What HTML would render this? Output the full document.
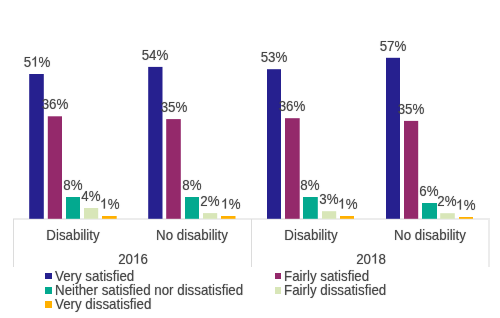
<!DOCTYPE html>
<html><head><meta charset="utf-8"><style>
html,body{margin:0;padding:0;background:#fff;width:500px;height:318px;overflow:hidden}
body{position:relative;font-family:"Liberation Sans",sans-serif}
.t,.tl{position:absolute;font-size:13.33px;line-height:13.33px;color:#464646;white-space:nowrap;will-change:transform;z-index:2;transform:scaleY(1.04);transform-origin:50% 11.28px;text-shadow:0 0 1px rgba(70,70,70,0.5)}
.t{text-align:center}
.one{display:inline-block;width:7.414px;height:9.581px;vertical-align:baseline;fill:#464646;stroke:#464646;stroke-width:40;overflow:visible}
.b{position:absolute;z-index:1}
.ln{position:absolute;background:#dcdcdc}
.ln2{position:absolute;background:#ececec}
.sq{position:absolute;width:6.5px;height:6.5px}
</style></head><body>
<div class="t" style="left:-23.50px;top:55.72px;width:120px">5<svg class="one" viewBox="0 0 1139 1472"><path d="M763,1472L583,1472L583,325Q518,387 412,449Q306,511 221,542L221,368Q372,297 485,196Q598,95 645,0L763,0Z"/></svg>%</div>
<div class="t" style="left:-5.10px;top:98.02px;width:120px">36%</div>
<div class="t" style="left:13.00px;top:178.72px;width:120px">8%</div>
<div class="t" style="left:31.10px;top:189.72px;width:120px">4%</div>
<div class="t" style="left:50.05px;top:197.72px;width:120px"><svg class="one" viewBox="0 0 1139 1472"><path d="M763,1472L583,1472L583,325Q518,387 412,449Q306,511 221,542L221,368Q372,297 485,196Q598,95 645,0L763,0Z"/></svg>%</div>
<div class="t" style="left:95.35px;top:48.62px;width:120px">54%</div>
<div class="t" style="left:113.50px;top:100.82px;width:120px">35%</div>
<div class="t" style="left:132.00px;top:178.72px;width:120px">8%</div>
<div class="t" style="left:150.10px;top:194.82px;width:120px">2%</div>
<div class="t" style="left:170.75px;top:197.72px;width:120px"><svg class="one" viewBox="0 0 1139 1472"><path d="M763,1472L583,1472L583,325Q518,387 412,449Q306,511 221,542L221,368Q372,297 485,196Q598,95 645,0L763,0Z"/></svg>%</div>
<div class="t" style="left:214.00px;top:50.92px;width:120px">53%</div>
<div class="t" style="left:232.35px;top:99.92px;width:120px">36%</div>
<div class="t" style="left:250.40px;top:178.72px;width:120px">8%</div>
<div class="t" style="left:269.10px;top:192.92px;width:120px">3%</div>
<div class="t" style="left:288.00px;top:197.72px;width:120px"><svg class="one" viewBox="0 0 1139 1472"><path d="M763,1472L583,1472L583,325Q518,387 412,449Q306,511 221,542L221,368Q372,297 485,196Q598,95 645,0L763,0Z"/></svg>%</div>
<div class="t" style="left:333.00px;top:39.52px;width:120px">57%</div>
<div class="t" style="left:351.10px;top:102.62px;width:120px">35%</div>
<div class="t" style="left:368.50px;top:184.72px;width:120px">6%</div>
<div class="t" style="left:387.00px;top:194.92px;width:120px">2%</div>
<div class="t" style="left:406.00px;top:198.72px;width:120px"><svg class="one" viewBox="0 0 1139 1472"><path d="M763,1472L583,1472L583,325Q518,387 412,449Q306,511 221,542L221,368Q372,297 485,196Q598,95 645,0L763,0Z"/></svg>%</div>
<svg class="b" width="500" height="318" style="left:0;top:0"><rect x="29.20" y="74.00" width="14.60" height="144.80" fill="#26208F"/><rect x="47.80" y="116.30" width="14.20" height="102.50" fill="#94296B"/><rect x="66.00" y="197.00" width="14.00" height="21.80" fill="#03A98F"/><rect x="84.00" y="208.00" width="14.20" height="10.80" fill="#D8E6B8"/><rect x="102.00" y="216.00" width="14.70" height="2.80" fill="#FFB000"/><rect x="148.20" y="66.90" width="14.30" height="151.90" fill="#26208F"/><rect x="166.20" y="119.10" width="14.60" height="99.70" fill="#94296B"/><rect x="185.00" y="197.00" width="14.00" height="21.80" fill="#03A98F"/><rect x="203.00" y="213.10" width="14.20" height="5.70" fill="#D8E6B8"/><rect x="221.00" y="216.00" width="14.50" height="2.80" fill="#FFB000"/><rect x="267.00" y="69.20" width="14.00" height="149.60" fill="#26208F"/><rect x="285.00" y="118.20" width="14.70" height="100.60" fill="#94296B"/><rect x="303.00" y="197.00" width="14.80" height="21.80" fill="#03A98F"/><rect x="322.00" y="211.20" width="14.20" height="7.60" fill="#D8E6B8"/><rect x="340.00" y="216.00" width="14.00" height="2.80" fill="#FFB000"/><rect x="386.00" y="57.80" width="14.00" height="161.00" fill="#26208F"/><rect x="404.00" y="120.90" width="14.20" height="97.90" fill="#94296B"/><rect x="422.00" y="203.00" width="15.00" height="15.80" fill="#03A98F"/><rect x="440.20" y="213.20" width="14.60" height="5.60" fill="#D8E6B8"/><rect x="459.00" y="217.00" width="14.00" height="1.80" fill="#FFB000"/></svg>
<div class="ln2" style="left:13px;top:218px;width:477px;height:2px"></div>
<div class="ln" style="left:13px;top:219px;width:1px;height:48px"></div>
<div class="ln" style="left:251px;top:219px;width:1px;height:48px"></div>
<div class="ln2" style="left:488px;top:219px;width:2px;height:48px"></div>
<div class="t" style="left:13.20px;top:229.02px;width:120px">Disability</div>
<div class="t" style="left:132.20px;top:229.02px;width:120px">No disability</div>
<div class="t" style="left:251.20px;top:229.02px;width:120px">Disability</div>
<div class="t" style="left:369.60px;top:229.02px;width:120px">No disability</div>
<div class="t" style="left:72.70px;top:252.62px;width:120px">20<svg class="one" viewBox="0 0 1139 1472"><path d="M763,1472L583,1472L583,325Q518,387 412,449Q306,511 221,542L221,368Q372,297 485,196Q598,95 645,0L763,0Z"/></svg>6</div>
<div class="t" style="left:310.70px;top:252.62px;width:120px">20<svg class="one" viewBox="0 0 1139 1472"><path d="M763,1472L583,1472L583,325Q518,387 412,449Q306,511 221,542L221,368Q372,297 485,196Q598,95 645,0L763,0Z"/></svg>8</div>
<div class="sq" style="left:45.2px;top:272.6px;background:#26208F"></div>
<div class="tl" style="left:54.6px;top:269.52px">Very satisfied</div>
<div class="sq" style="left:274.8px;top:272.6px;background:#94296B"></div>
<div class="tl" style="left:284.2px;top:269.52px">Fairly satisfied</div>
<div class="sq" style="left:45.2px;top:287.0px;background:#03A98F"></div>
<div class="tl" style="left:54.6px;top:283.62px">Neither satisfied nor dissatisfied</div>
<div class="sq" style="left:274.8px;top:287.0px;background:#D8E6B8"></div>
<div class="tl" style="left:284.2px;top:283.62px">Fairly dissatisfied</div>
<div class="sq" style="left:45.2px;top:301.2px;background:#FFB000"></div>
<div class="tl" style="left:54.6px;top:297.72px">Very dissatisfied</div>
</body></html>
